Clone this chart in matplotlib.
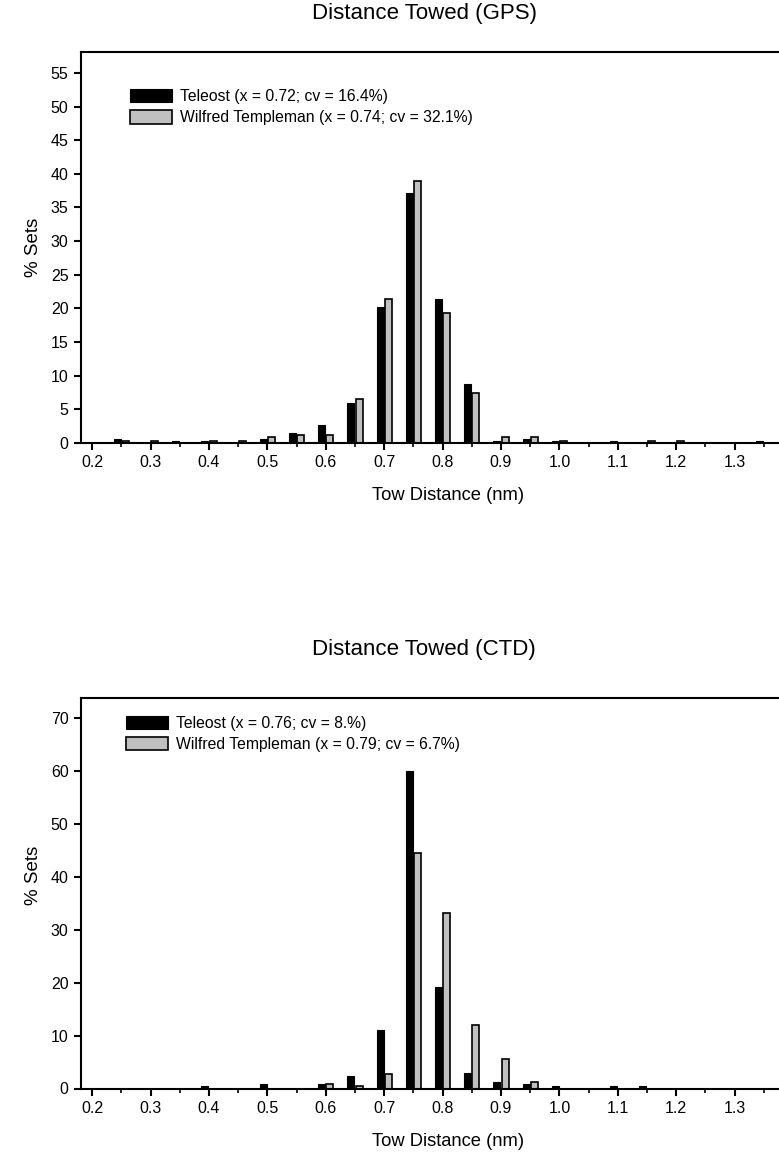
"""
Distance towed histograms (GPS and CTD) for Teleost vs Wilfred Templeman.
Two stacked bar charts, % of sets per 0.05 nm bin.
"""

import numpy as np
import matplotlib
matplotlib.use("Agg")
import matplotlib.pyplot as plt
from matplotlib.ticker import MultipleLocator

plt.rcParams['font.family'] = ['Liberation Sans', 'DejaVu Sans']

# ---- Data
bins = [0.25, 0.30, 0.35, 0.40, 0.45, 0.50, 0.55, 0.60, 0.65, 0.70, 0.75, 0.80,
        0.85, 0.90, 0.95, 1.00, 1.05, 1.10, 1.15, 1.20, 1.25, 1.30, 1.35]

gps_teleost = [0.6, 0.0, 0.3, 0.3, 0.0, 0.6, 1.5, 2.7, 6.0, 20.2, 37.1, 21.4,
               8.7, 0.3, 0.6, 0.3, 0.0, 0.3, 0.0, 0.0, 0.0, 0.0, 0.3]
gps_wt = [0.3, 0.3, 0.0, 0.3, 0.3, 0.9, 1.2, 1.2, 6.5, 21.4, 38.9, 19.3,
          7.4, 0.9, 0.9, 0.3, 0.0, 0.0, 0.3, 0.3, 0.0, 0.0, 0.0]

ctd_teleost = [0.0, 0.0, 0.0, 0.5, 0.0, 0.9, 0.0, 0.9, 2.4, 11.0, 60.0, 19.2,
               2.9, 1.3, 0.9, 0.5, 0.0, 0.5, 0.5, 0.0, 0.0, 0.0, 0.0]
ctd_wt = [0.0, 0.0, 0.0, 0.0, 0.0, 0.0, 0.0, 0.9, 0.5, 2.7, 44.4, 33.1,
          11.9, 5.5, 1.3, 0.0, 0.0, 0.0, 0.0, 0.0, 0.0, 0.0, 0.0]

gps_labels = ["Teleost (x = 0.72; cv = 16.4%)",
              "Wilfred Templeman (x = 0.74; cv = 32.1%)"]
ctd_labels = ["Teleost (x = 0.76; cv = 8.%)",
              "Wilfred Templeman (x = 0.79; cv = 6.7%)"]

# ---- Figure
W, H = 779, 1162
fig = plt.figure(figsize=(W/100., H/100.), dpi=100)

x = np.array(bins)
bw = 0.012
off = 0.007


def panel(ax, tel, wt, labels, ymax, ystep, leg_xy):
    ax.bar(x - off, tel, width=bw, color='black', edgecolor='black',
           linewidth=0.8, label=labels[0])
    ax.bar(x + off, wt, width=bw, color='#c0c0c0', edgecolor='black',
           linewidth=1.2, label=labels[1])
    ax.set_xlim(0.181, 1.376)
    ax.set_ylim(0, ymax)
    ax.xaxis.set_minor_locator(MultipleLocator(0.05))
    ax.set_xticks(np.arange(0.2, 1.31, 0.1))
    ax.set_xticklabels(["%.1f" % v for v in np.arange(0.2, 1.31, 0.1)])
    ax.set_yticks(np.arange(0, ymax, ystep))
    ax.spines['right'].set_visible(False)
    for s in ['left', 'top', 'bottom']:
        ax.spines[s].set_linewidth(1.5)
    ax.tick_params(which='major', direction='out', length=5, width=1.5,
                   labelsize=11.5, pad=4)
    ax.tick_params(which='minor', direction='out', length=3, width=1.2)
    ax.tick_params(axis='y', which='minor', left=False)
    ax.legend(loc='upper left', frameon=False, fontsize=11.3,
              handlelength=2.7, handleheight=0.9, handletextpad=0.5,
              labelspacing=0.4, borderpad=0, borderaxespad=0,
              bbox_to_anchor=leg_xy)


ax1 = fig.add_axes([81/W, 1 - 443/H, 1 - 81/W, 391/H])
panel(ax1, gps_teleost, gps_wt, gps_labels, 58.1, 5, (0.0702, 0.905))
ax2 = fig.add_axes([81/W, 1 - 1088.5/H, 1 - 81/W, 390.5/H])
panel(ax2, ctd_teleost, ctd_wt, ctd_labels, 73.7, 10, (0.0645, 0.955))

fig.text(425/W, 1 - 13/H, "Distance Towed (GPS)", ha='center', va='center',
         fontsize=16)
fig.text(424/W, 1 - 650/H, "Distance Towed (CTD)", ha='center', va='center',
         fontsize=16)
fig.text(448/W, 1 - 496/H, "Tow Distance (nm)", ha='center', va='center',
         fontsize=13.2)
fig.text(448/W, 1 - 1142/H, "Tow Distance (nm)", ha='center', va='center',
         fontsize=13.2)
fig.text(33/W, 1 - 247/H, "% Sets", ha='center', va='center', rotation=90,
         fontsize=13.5)
fig.text(33/W, 1 - 875/H, "% Sets", ha='center', va='center', rotation=90,
         fontsize=13.5)

fig.savefig("out.png", dpi=100)
